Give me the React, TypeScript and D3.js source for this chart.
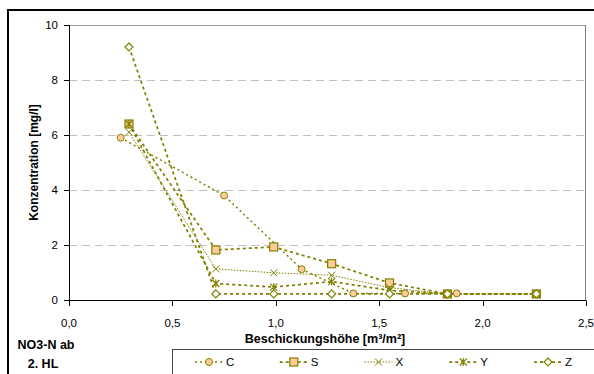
import React from "react";
import * as d3 from "d3";

const xTicks = [0, 0.5, 1.0, 1.5, 2.0, 2.5];
const yTicks = [0, 2, 4, 6, 8, 10];

const cX = [0.25, 0.75, 1.125, 1.375, 1.625, 1.875];
const cY = [5.9, 3.8, 1.12, 0.24, 0.24, 0.24];

const baseX = [0.29, 0.71, 0.99, 1.27, 1.55, 1.83, 2.26];
const sY = [6.4, 1.82, 1.93, 1.32, 0.62, 0.22, 0.22];
const xY = [6.1, 1.13, 0.99, 0.9, 0.45, 0.22, 0.22];
const yY = [6.4, 0.6, 0.47, 0.67, 0.35, 0.22, 0.22];
const zY = [9.2, 0.22, 0.22, 0.22, 0.22, 0.22, 0.22];

const seriesNames = ["C", "S", "X", "Y", "Z"];

const OLIVE = "#808000";
const PEACH = "#FFCC99";
const FONT = "Liberation Sans, Arial, sans-serif";

type Series = { name: string; xs: number[]; ys: number[]; marker: string; dash: string; width: number };

const series: Series[] = [
  { name: seriesNames[0], xs: cX, ys: cY, marker: "circle", dash: "2,3", width: 1.5 },
  { name: seriesNames[1], xs: baseX, ys: sY, marker: "square", dash: "3,3", width: 1.75 },
  { name: seriesNames[2], xs: baseX, ys: xY, marker: "x", dash: "1.5,1.5", width: 1 },
  { name: seriesNames[3], xs: baseX, ys: yY, marker: "star", dash: "3,3", width: 1.75 },
  { name: seriesNames[4], xs: baseX, ys: zY, marker: "diamond", dash: "3,3", width: 1.75 },
];

function Marker({ type, x, y }: { type: string; x: number; y: number }) {
  if (type === "circle")
    return <circle cx={x} cy={y} r={3.5} fill={PEACH} stroke={OLIVE} strokeWidth={1} />;
  if (type === "square")
    return <rect x={x - 4} y={y - 4} width={8} height={8} fill={PEACH} stroke={OLIVE} strokeWidth={1.2} />;
  if (type === "x")
    return (
      <path d={`M${x - 3.5},${y - 3.5}L${x + 3.5},${y + 3.5}M${x - 3.5},${y + 3.5}L${x + 3.5},${y - 3.5}`} stroke={OLIVE} strokeWidth={1} fill="none" />
    );
  if (type === "star")
    return (
      <path
        d={`M${x - 3.5},${y - 3.5}L${x + 3.5},${y + 3.5}M${x - 3.5},${y + 3.5}L${x + 3.5},${y - 3.5}M${x},${y - 4}L${x},${y + 4}`}
        stroke={OLIVE}
        strokeWidth={1.2}
        fill="none"
      />
    );
  return <path d={`M${x},${y - 4}L${x + 4},${y}L${x},${y + 4}L${x - 4},${y}Z`} fill="#fff" stroke={OLIVE} strokeWidth={1.2} />;
}

export default function App() {
  const W = 594;
  const H = 374;
  const x = d3.scaleLinear().domain([0, 2.5]).range([69, 586]);
  const y = d3.scaleLinear().domain([0, 10]).range([300, 25]);
  const line = d3
    .line<[number, number]>()
    .x((d) => x(d[0]))
    .y((d) => y(d[1]))
    .curve(d3.curveLinear);

  const legendX0 = 209;
  const legendStep = 84.75;
  const legendY = 362;

  return (
    <svg width={W} height={H} style={{ position: "absolute", left: 0, top: 0, background: "#fff" }} fontFamily={FONT}>
      <rect x={0} y={0} width={W} height={H} fill="#fff" />
      {/* outer chart border */}
      <rect x={8} y={10} width={W + 20} height={H + 20} fill="none" stroke="#000" strokeWidth={2} />

      {/* gridlines */}
      {yTicks.filter((t) => t > 0 && t < 10).map((t) => (
        <line key={t} x1={x(0)} x2={x(2.5)} y1={Math.round(y(t)) + 0.5} y2={Math.round(y(t)) + 0.5} stroke="#c0c0c0" strokeWidth={1} strokeDasharray="8,5" />
      ))}
      {/* plot frame top/right */}
      <line x1={x(0)} x2={x(2.5)} y1={25.5} y2={25.5} stroke="#a0a0a0" strokeWidth={1} />
      <line x1={585.5} x2={585.5} y1={25} y2={300} stroke="#808080" strokeWidth={1} />

      {/* axes */}
      <line x1={69.5} x2={69.5} y1={25} y2={300.5} stroke="#000" strokeWidth={1} />
      <line x1={69} x2={586} y1={300.5} y2={300.5} stroke="#000" strokeWidth={1} />
      {yTicks.map((t) => (
        <g key={t}>
          <line x1={64} x2={69.5} y1={Math.round(y(t)) + 0.5} y2={Math.round(y(t)) + 0.5} stroke="#000" />
          <text x={58} y={y(t) + 4} textAnchor="end" fontSize={11.5} fill="#000">
            {t}
          </text>
        </g>
      ))}
      {xTicks.map((t) => (
        <g key={t}>
          <line x1={Math.round(x(t)) + 0.5} x2={Math.round(x(t)) + 0.5} y1={300.5} y2={306} stroke="#000" />
          <text x={x(t)} y={327} textAnchor="middle" fontSize={11.5} fill="#000">
            {t.toFixed(1).replace(".", ",")}
          </text>
        </g>
      ))}

      {/* axis titles */}
      <text x={325} y={343} textAnchor="middle" fontSize={12.5} fontWeight="bold" fill="#000">
        Beschickungshöhe [m³/m²]
      </text>
      <text transform={`translate(38,162.5) rotate(-90)`} textAnchor="middle" fontSize={12} fontWeight="bold" fill="#000">
        Konzentration [mg/l]
      </text>

      {/* series lines */}
      {series.map((s) => (
        <path
          key={s.name + "l"}
          d={line(s.xs.map((v, i) => [v, s.ys[i]] as [number, number])) || ""}
          fill="none"
          stroke={OLIVE}
          strokeWidth={s.width}
          strokeDasharray={s.dash}
        />
      ))}
      {series.map((s) => (
        <g key={s.name + "m"}>
          {s.xs.map((v, i) => (
            <Marker key={i} type={s.marker} x={x(v)} y={y(s.ys[i])} />
          ))}
        </g>
      ))}

      {/* note */}
      <text x={46} y={349} textAnchor="middle" fontSize={12.5} fontWeight="bold" fill="#000">
        NO3-N ab
      </text>
      <text x={43} y={368} textAnchor="middle" fontSize={12.5} fontWeight="bold" fill="#000">
        2. HL
      </text>

      {/* legend */}
      <rect x={172.5} y={349.5} width={500} height={100} fill="#fff" stroke="#444" strokeWidth={1} />
      {series.map((s, i) => {
        const cx = legendX0 + i * legendStep;
        return (
          <g key={s.name + "lg"}>
            <line x1={cx - 14} x2={cx + 14} y1={legendY} y2={legendY} stroke={OLIVE} strokeWidth={s.width} strokeDasharray={s.dash} />
            <Marker type={s.marker} x={cx} y={legendY} />
            <text x={cx + 17} y={legendY + 4} fontSize={11.5} fill="#000">
              {s.name}
            </text>
          </g>
        );
      })}
    </svg>
  );
}
